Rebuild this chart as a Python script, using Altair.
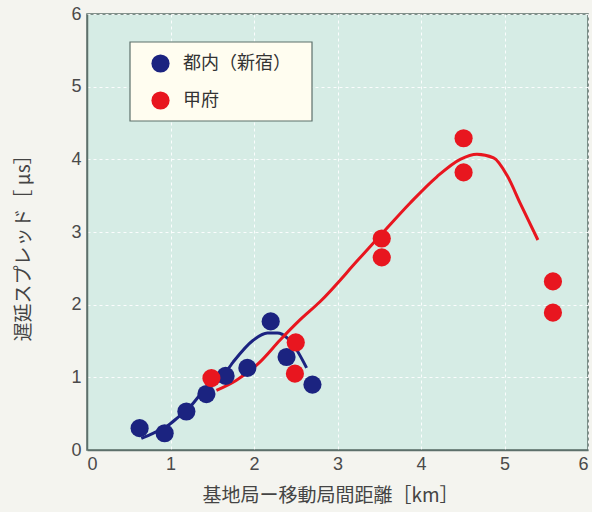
import altair as alt
import pandas as pd

# Measured delay spread vs. base-station distance
series_names = ["都内（新宿）", "甲府"]
series_colors = ["#1b2380", "#e8161f"]

tokyo_x = [0.63, 0.93, 1.19, 1.43, 1.66, 1.92, 2.20, 2.39, 2.70]
tokyo_y = [0.30, 0.23, 0.53, 0.77, 1.02, 1.13, 1.77, 1.28, 0.90]

kofu_x = [1.49, 2.50, 2.49, 3.53, 3.53, 4.51, 4.51, 5.58, 5.58]
kofu_y = [0.99, 1.48, 1.05, 2.91, 2.65, 4.29, 3.82, 2.32, 1.89]

# Fitted trend curves
tokyo_fit_x = [0.65, 0.79, 0.95, 1.09, 1.23, 1.41, 1.59, 1.75, 1.99, 2.16, 2.28, 2.40, 2.51, 2.63]
tokyo_fit_y = [0.16, 0.23, 0.32, 0.45, 0.59, 0.83, 0.96, 1.21, 1.51, 1.61, 1.61, 1.54, 1.38, 1.13]

kofu_fit_x = [1.55, 1.79, 2.07, 2.31, 2.55, 2.79, 3.25, 3.55, 3.87, 4.19, 4.47, 4.67, 4.87, 5.03, 5.19, 5.40]
kofu_fit_y = [0.82, 0.96, 1.21, 1.51, 1.79, 2.04, 2.62, 3.00, 3.40, 3.76, 4.00, 4.07, 4.02, 3.78, 3.39, 2.89]

axis_ticks = [0, 1, 2, 3, 4, 5, 6]

points = pd.concat([
    pd.DataFrame({"x": tokyo_x, "y": tokyo_y, "site": series_names[0], "order": 0}),
    pd.DataFrame({"x": kofu_x, "y": kofu_y, "site": series_names[1], "order": 1}),
])
fits = pd.concat([
    pd.DataFrame({"x": tokyo_fit_x, "y": tokyo_fit_y, "site": series_names[0]}),
    pd.DataFrame({"x": kofu_fit_x, "y": kofu_fit_y, "site": series_names[1]}),
])

cjk = "Noto Sans CJK JP"
color_scale = alt.Scale(domain=series_names, range=series_colors)

site_legend = alt.Legend(
    title=None, orient="none", legendX=64, legendY=40, padding=0,
    symbolSize=330, symbolType="circle", labelFontSize=18, labelFont=cjk,
    labelColor="#333333", rowPadding=18, labelOffset=13, symbolStrokeWidth=0,
)
color_enc = alt.Color("site:N", scale=color_scale, legend=site_legend)

x_enc = alt.X(
    "x:Q",
    scale=alt.Scale(domain=[0, 6], nice=False),
    axis=alt.Axis(values=axis_ticks, title="基地局ー移動局間距離［km］",
                  titlePadding=13, labelPadding=5, titleX=243),
)
y_enc = alt.Y(
    "y:Q",
    scale=alt.Scale(domain=[0, 6], nice=False),
    axis=alt.Axis(values=axis_ticks, title="遅延スプレッド［ μs］",
                  titlePadding=37, labelPadding=6, titleY=229),
)

legend_box = alt.Chart(pd.DataFrame({"k": [0]})).mark_rect(
    fill="#fffdf0", stroke="#5d706b", strokeWidth=1.2
).encode(x=alt.value(43), x2=alt.value(225), y=alt.value(28), y2=alt.value(107))

lines = alt.Chart(fits).mark_line(strokeWidth=3, interpolate="monotone").encode(
    x=x_enc, y=y_enc,
    color=color_enc,
    order=alt.Order("x:Q"),
)

dots = alt.Chart(points).mark_circle(size=330, opacity=1).encode(
    x=x_enc, y=y_enc,
    color=color_enc,
    order=alt.Order("order:Q"),
)

chart = alt.layer(legend_box, lines, dots).properties(
    width=501, height=436,
    padding={"left": 87, "top": 14, "right": 4, "bottom": 62},
    autosize="none",
    background="#f4f4ef",
).configure_view(
    fill="#d6ece5", stroke="#5d706b", strokeWidth=1.5,
).configure_axis(
    grid=True, gridColor="#ffffff", gridDash=[3, 3], gridWidth=1, gridOpacity=0.9,
    ticks=False, domainColor="#5d706b", domainWidth=1.5,
    labelFont="Liberation Sans", labelFontSize=18, labelColor="#4a4a4a",
    titleFont=cjk, titleFontSize=19, titleColor="#444444", titleFontWeight="normal",
)

chart.save("out.html", embed_options={"renderer": "svg", "actions": False})
